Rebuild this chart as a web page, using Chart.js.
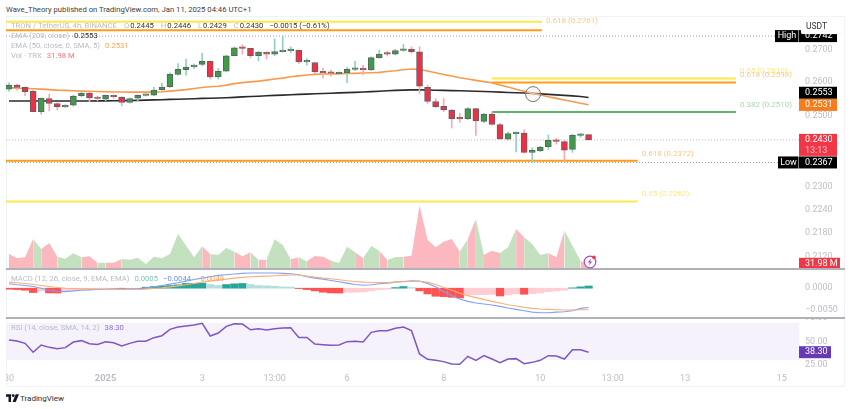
<!DOCTYPE html>
<html>
<head>
<meta charset="utf-8">
<script src="https://cdn.jsdelivr.net/npm/chart.js@4"></script>
<style>
  html, body { margin: 0; padding: 0; background: #fff; width: 850px; height: 409px; overflow: hidden; font-family: Roboto, sans-serif; }
  canvas { position: absolute; left: 6px; }
  .frame { position: absolute; left: 6px; top: 16px; width: 839px; height: 371px; border: 1px solid #f0f3fa; box-sizing: border-box; }
  .sep { position: absolute; left: 6px; width: 839px; height: 2px; background: #b0b2b8; z-index: 3; }
  .row { position: absolute; left: 11px; font-size: 7.7px; line-height: 12px; color: #b8bbc4; white-space: nowrap; z-index: 4; }
  .row b { font-weight: 400; margin-left: 5px; }
  .row i { font-style: normal; margin-left: 7px; }
  .row u { text-decoration: none; color: #333; margin-left: 1px; }
  .title { position: absolute; left: 6px; top: 3px; font-size: 7.7px; line-height: 14px; color: #3a3d45; white-space: nowrap; }
  .usdt { position: absolute; left: 801px; top: 19px; width: 40px; height: 15px; line-height: 15px; background: #fff; border-radius: 2px; box-shadow: 0 0 1px #d8dae0; font-size: 8.5px; color: #333; text-indent: 5px; z-index: 5; }
  .brand { position: absolute; left: 20px; top: 392px; font-size: 8px; line-height: 14px; color: #2a2e39; }
</style>
</head>
<body>
<div class="title">Wave_Theory published on TradingView.com, Jan 11, 2025 04:46 UTC+1</div>
<div class="frame"></div>
<canvas id="priceChart" width="839" height="252" style="top:17px"></canvas>
<canvas id="macdChart" width="839" height="48" style="top:269px"></canvas>
<canvas id="rsiChart" width="839" height="69" style="top:318px"></canvas>
<div class="sep" style="top:268px"></div>
<div class="sep" style="top:317px"></div>
<div class="usdt">USDT</div>

<div class="row" style="top:20px">TRON / TetherUS, 4h, BINANCE<i>O</i><u>0.2445</u><i>H</i><u>0.2446</u><i>L</i><u>0.2429</u><i>C</i><u>0.2430</u><u style="margin-left:6px">−0.0015 (−0.61%)</u></div>
<div class="row" style="top:29.5px">EMA (200, close)<b style="color:#333">0.2553</b></div>
<div class="row" style="top:40px">EMA (50, close, 0, SMA, 5)<b style="color:#f7a35c">0.2531</b></div>
<div class="row" style="top:50px">Vol · TRX<b style="color:#f7707d">31.98 M</b></div>
<div class="row" style="top:273px">MACD (12, 26, close, 9, EMA, EMA)<b style="color:#7cc7bd">0.0005</b><b style="color:#6f8ff0">−0.0044</b><b style="color:#f7a35c">−0.0049</b></div>
<div class="row" style="top:322px">RSI (14, close, SMA, 14, 2)<b style="color:#8e6bc9">38.30</b></div>

<svg style="position:absolute;left:582px;top:254px;z-index:4" width="16" height="16" viewBox="0 0 16 16">
  <circle cx="8" cy="8" r="5.8" fill="#fff" stroke="#ab47bc" stroke-width="1.2"/>
  <path d="M8.8 4.6 L5.9 8.6 H7.8 L7.2 11.4 L10.1 7.4 H8.2 Z" fill="#ab47bc"/>
  <circle cx="12" cy="3.4" r="1.8" fill="#f23645"/>
</svg>
<svg style="position:absolute;left:6px;top:394px" width="13" height="9" viewBox="0 0 36 24">
  <path d="M0 0 H14 V22 H7 V7 H0 Z" fill="#131722"/>
  <circle cx="20" cy="4" r="4" fill="#131722"/>
  <path d="M27 0 H36 L27 22 H18 Z" fill="#131722"/>
</svg>
<div class="brand">TradingView</div>

<script>
// candles
const opens = [
  .2578,.2590,.2583,.2571,.2511,.2550,.2535,.2525,.2530,.2558,
  .2566,.2552,.2548,.2559,.2554,.2538,.2551,.2559,.2560,.2576,
  .2585,.2622,.2637,.2646,.2653,.2663,.2615,.2632,.2680,.2705,
  .2703,.2680,.2691,.2685,.2693,.2696,.2697,.2661,.2659,.2630,
  .2629,.2624,.2627,.2638,.2639,.2637,.2674,.2689,.2685,.2697,
  .2701,.2692,.2583,.2541,.2527,.2516,.2492,.2491,.2520,.2483,
  .2504,.2474,.2432,.2448,.2449,.2395,.2400,.2411,.2429,.2425,
  .2403,.2443,.2445];
const closes = [
  .2590,.2583,.2570,.2511,.2551,.2535,.2525,.2529,.2557,.2566,
  .2552,.2550,.2559,.2555,.2538,.2550,.2559,.2561,.2575,.2584,
  .2623,.2638,.2645,.2651,.2663,.2615,.2632,.2680,.2705,.2703,
  .2680,.2691,.2685,.2693,.2696,.2697,.2661,.2663,.2630,.2627,
  .2626,.2629,.2639,.2641,.2637,.2674,.2685,.2685,.2696,.2701,
  .2693,.2587,.2541,.2525,.2516,.2491,.2490,.2520,.2484,.2504,
  .2474,.2433,.2448,.2450,.2395,.2401,.2410,.2429,.2426,.2401,
  .2443,.2445,.2430];
const highs = [
  .2597,.2593,.2585,.2575,.2551,.2563,.2537,.2532,.2560,.2572,
  .2570,.2557,.2560,.2561,.2555,.2552,.2561,.2564,.2583,.2595,
  .2627,.2656,.2670,.2654,.2688,.2664,.2641,.2682,.2708,.2714,
  .2703,.2694,.2693,.2733,.2742,.2708,.2698,.2671,.2659,.2641,
  .2636,.2630,.2643,.2663,.2651,.2677,.2698,.2695,.2700,.2716,
  .2708,.2708,.2590,.2550,.2550,.2518,.2506,.2523,.2521,.2506,
  .2511,.2477,.2453,.2453,.2459,.2408,.2412,.2444,.2434,.2429,
  .2446,.2448,.2446];
const lows = [
  .2571,.2575,.2558,.2511,.2504,.2513,.2516,.2523,.2527,.2555,
  .2540,.2543,.2543,.2550,.2528,.2536,.2542,.2557,.2558,.2574,
  .2583,.2620,.2620,.2640,.2649,.2608,.2608,.2630,.2679,.2685,
  .2673,.2664,.2670,.2680,.2692,.2689,.2656,.2651,.2625,.2612,
  .2617,.2622,.2597,.2634,.2621,.2634,.2672,.2679,.2682,.2694,
  .2688,.2565,.2535,.2524,.2511,.2464,.2480,.2488,.2443,.2479,
  .2472,.2431,.2429,.2396,.2393,.2367,.2397,.2403,.2418,.2371,
  .2395,.2437,.2429];

const ema50 = [
  .25824,.25809,.25803,.25791,.25779,.25764,.25749,.25740,.25728,.25719,
  .25713,.25707,.25701,.25695,.25692,.25689,.25689,.25689,.25689,.25701,
  .25719,.25740,.25764,.25800,.25830,.25849,.25864,.25900,.25945,.25975,
  .25997,.26021,.26051,.26082,.26112,.26152,.26179,.26204,.26225,.26235,
  .26241,.26244,.26250,.26256,.26265,.26274,.26287,.26311,.26335,.26366,
  .26388,.26378,.26326,.26274,.26222,.26173,.26121,.26082,.26042,.26006,
  .25969,.25903,.25840,.25773,.25713,.25651,.25603,.25552,.25503,.25457,
  .25410,.25360,.25312];
const ema200 = [
  .25424,.25424,.25424,.25424,.25424,.25424,.25424,.25424,.25427,.25427,
  .25427,.25430,.25430,.25433,.25436,.25439,.25445,.25451,.25457,.25463,
  .25472,.25478,.25484,.25493,.25502,.25508,.25514,.25523,.25534,.25546,
  .25558,.25567,.25579,.25591,.25600,.25609,.25621,.25630,.25639,.25648,
  .25657,.25666,.25675,.25683,.25692,.25704,.25716,.25728,.25740,.25749,
  .25755,.25758,.25752,.25746,.25740,.25734,.25728,.25722,.25716,.25707,
  .25698,.25689,.25680,.25672,.25663,.25651,.25636,.25621,.25606,.25591,
  .25576,.25558,.25530];
// volume in millions
const volumes = [
  150,110,117,300,200,260,123,103,157,117,
  127,63,63,63,100,93,113,50,123,107,
  150,353,233,117,227,150,140,210,173,127,
  167,93,93,297,240,97,117,77,130,123,
  83,60,223,167,107,230,183,90,120,123,
  133,633,293,217,273,300,173,300,500,143,
  183,160,217,400,317,250,140,160,117,387,
  233,83,31.98];

const macdHist = [
  -.00023,-.00031,-.00046,-.00100,-.00061,-.00108,-.00111,-.00061,-.00046,-.00031,
  -.00023,-.00015,-.00015,-.00008,-.00015,-.00008,-.00004,.00023,.00038,.00046,
  .00061,.00077,.00108,.00111,.00115,.00084,.00061,.00084,.00100,.00108,
  .00084,.00061,.00054,.00046,.00031,.00027,-.00008,-.00031,-.00061,-.00092,
  -.00108,-.00111,-.00092,-.00092,-.00084,-.00061,-.00031,-.00023,.00015,.00038,
  .00015,-.00061,-.00131,-.00184,-.00192,-.00207,-.00223,-.00154,-.00150,-.00146,
  -.00142,-.00177,-.00154,-.00131,-.00138,-.00123,-.00108,-.00077,-.00061,-.00046,
  .00008,.00031,.0005];
const macdLine = [
  .00100,.00077,.00061,.00038,0,-.00046,-.00069,-.00077,-.00061,-.00046,
  -.00038,-.00031,-.00023,-.00015,-.00015,-.00015,-.00015,.00008,.00031,.00061,
  .00092,.00123,.00161,.00200,.00230,.00261,.00292,.00307,.00323,.00338,
  .00346,.00346,.00346,.00346,.00338,.00330,.00307,.00261,.00230,.00207,
  .00177,.00146,.00115,.00084,.00069,.00077,.00100,.00115,.00138,.00154,
  .00169,.00161,.00108,.00031,-.00077,-.00169,-.00246,-.00300,-.00338,-.00361,
  -.00384,-.00415,-.00453,-.00484,-.00515,-.00545,-.00561,-.00561,-.00545,-.00538,
  -.00515,-.00461,-.0044];
const macdSignal = [
  .00138,.00123,.00108,.00084,.00061,.00038,.00015,0,-.00008,-.00015,
  -.00015,-.00019,-.00023,-.00023,-.00027,-.00031,-.00031,-.00023,-.00008,.00008,
  .00031,.00054,.00077,.00108,.00138,.00161,.00184,.00207,.00230,.00246,
  .00261,.00269,.00276,.00284,.00292,.00300,.00300,.00276,.00253,.00230,
  .00215,.00192,.00169,.00154,.00138,.00131,.00131,.00131,.00138,.00146,
  .00154,.00154,.00138,.00084,.00015,-.00046,-.00115,-.00169,-.00215,-.00261,
  -.00300,-.00338,-.00376,-.00407,-.00438,-.00461,-.00476,-.00484,-.00492,-.00499,
  -.00499,-.00492,-.0049];

const rsi = [
  51.4,50.3,47.8,38.2,46.0,43.5,42.1,43.2,49.2,50.7,
  47.4,46.7,49.6,48.5,45.0,47.8,50.0,50.0,53.9,56.0,
  62.8,65.3,66.4,67.5,69.3,55.7,58.9,66.0,68.9,68.5,
  62.4,63.5,62.1,63.5,64.2,64.6,54.2,54.2,47.1,46.4,
  45.7,46.0,49.6,50.0,49.2,59.6,61.4,61.4,63.9,65.3,
  61.4,36.4,30.7,29.6,28.2,25.7,25.3,33.9,29.6,34.6,
  31.0,27.1,31.0,31.4,26.0,27.4,29.6,34.6,34.2,31.0,
  41.0,41.0,38.3];

// fib levels drawn on the chart
const fibPrices = [.2788, .2761, .2610, .2598, .2510, .2372, .2262];
const fibFrom = [-0.37, -0.37, 60, 60, 60, -0.37, -0.37];
const fibTo = [66.2, 66.2, 90.3, 90.3, 90.3, 78.1, 78.1];
const fibLabels = ["", "0.618 (0.2761)", "0.65 (0.2610)", "0.618 (0.2598)", "0.382 (0.2510)", "0.618 (0.2372)", "0.65 (0.2262)"];
const fibColors = ["#fde84b", "#ff9d14", "#fde84b", "#ff9d14", "#62b566", "#ff9d14", "#fde84b"];
const fibTextColors = ["#fff", "#fbc78a", "#ffe77f", "#fbc78a", "#a8d8aa", "#fbc78a", "#ffe77f"];

const priceTicks = [.27, .26, .25, .24, .23, .224, .218, .212];
const macdTicks = [0, -.005];
const rsiTicks = [75, 50, 25];
const timeTickIndex = [0, 12, 24, 33, 42, 54, 66, 75, 84, 96];
const timeTickLabels = ["30", "2025", "3", "13:00", "6", "8", "10", "13:00", "13", "15"];

const highPrice = .2742, lowPrice = .2367, lastPrice = .2430;
const crossIndex = 65.1, crossPrice = .2563;

const xMin = -0.37, xMax = 98.14;
const candleIndex = opens.map((_, i) => i);
const GREEN = "#3d9c46", RED = "#ee2f45";
const isUp = i => closes[i] >= opens[i];

Chart.defaults.font.family = "Roboto, sans-serif";
Chart.defaults.font.size = 9;
Chart.defaults.animation = false;
Chart.defaults.responsive = false;
Chart.defaults.plugins.legend.display = false;
Chart.defaults.plugins.tooltip.enabled = false;
Chart.defaults.devicePixelRatio = 1;

const series = arr => arr.map((v, i) => ({ x: i, y: v }));
const flat = (v, a, b) => [{ x: a, y: v }, { x: b, y: v }];
const lineSet = (data, color, width, order, extra) => Object.assign({
  type: "line", data, borderColor: color, borderWidth: width, pointRadius: 0, order, yAxisID: "y"
}, extra || {});

// tick labels must not push the plot area inwards
function noLabelPadding(s) {
  s.paddingLeft = s.paddingRight = s.paddingTop = s.paddingBottom = 0;
}

function xAxis(show) {
  return {
    type: "linear", min: xMin, max: xMax, offset: false, display: show,
    grid: { display: false, drawTicks: false }, border: { display: false },
    afterBuildTicks: s => { s.ticks = timeTickIndex.map(value => ({ value })); },
    afterFit: s => { noLabelPadding(s); s.height = show ? 17 : 0; },
    ticks: {
      autoSkip: false, maxRotation: 0, padding: 3, color: "#bcbec6",
      callback: v => timeTickLabels[timeTickIndex.indexOf(v)],
      font: ctx => ctx.tick && ctx.tick.value === 12 ? { size: 9.5, weight: "bold" } : { size: 9 }
    }
  };
}
function yAxis(tickValues, fmt, extra) {
  return Object.assign({
    position: "right", bounds: "data",
    grid: { display: false, drawTicks: false }, border: { display: false },
    afterBuildTicks: s => { s.ticks = tickValues.map(value => ({ value })); },
    afterFit: s => { noLabelPadding(s); s.width = 46; },
    ticks: { autoSkip: false, padding: 6, color: "#bcbec6", callback: fmt }
  }, extra);
}

// value tags on the right axis and the fib captions
function tagsPlugin(tags, captions) {
  return {
    id: "tags",
    afterDraw(chart) {
      const ctx = chart.ctx, area = chart.chartArea;
      ctx.save();
      ctx.textBaseline = "middle";
      ctx.font = "8px Roboto, sans-serif";
      captions.forEach(c => {
        ctx.fillStyle = c.color;
        ctx.textAlign = "left";
        ctx.fillText(c.text, chart.scales.x.getPixelForValue(c.x) + 4, chart.scales.y.getPixelForValue(c.y) + c.dy);
      });
      ctx.font = "9px Roboto, sans-serif";
      tags.forEach(t => {
        const scale = chart.scales[t.axis || "y"];
        const y = scale.getPixelForValue(t.value) + (t.nudge || 0);
        const h = t.sub ? 22 : 12;
        ctx.fillStyle = t.bg;
        ctx.fillRect(area.right, y - 6, t.w || 38, h);
        if (t.name) {
          ctx.fillStyle = "#000";
          ctx.fillRect(area.right - t.nameW, y - 6, t.nameW - 0.5, 12);
          ctx.fillStyle = "#fff";
          ctx.textAlign = "center";
          ctx.fillText(t.name, area.right - t.nameW / 2, y);
        }
        ctx.textAlign = "left";
        ctx.fillStyle = "#fff";
        ctx.fillText(t.text, area.right + 6, y);
        if (t.sub) {
          ctx.fillStyle = "#fcc2c8";
          ctx.fillText(t.sub, area.right + 6, y + 10.5);
        }
      });
      ctx.restore();
    }
  };
}

const fibSets = fibPrices.map((p, i) => lineSet(flat(p, fibFrom[i], fibTo[i]), fibColors[i], 2, 9));
const fibCaptions = fibPrices.map((p, i) => ({ x: fibTo[i], y: p, dy: i === 1 ? -9 : -7, text: fibLabels[i], color: fibTextColors[i] }));
const priceTags = [
  { value: highPrice, text: highPrice.toFixed(4), bg: "#000", name: "High", nameW: 24 },
  { value: .2553, text: "0.2553", bg: "#000", nudge: -4.7 },
  { value: .2531, text: "0.2531", bg: "#f77c1c" },
  { value: lastPrice, text: lastPrice.toFixed(4), bg: "#f23645", sub: "13:13" },
  { value: lowPrice, text: lowPrice.toFixed(4), bg: "#000", name: "Low", nameW: 21 },
  { axis: "vol", value: volumes[72], text: "31.98 M", bg: "#f23645", w: 41, nudge: -2 }
];

new Chart(document.getElementById("priceChart"), {
  type: "bar",
  plugins: [tagsPlugin(priceTags, fibCaptions)],
  data: {
    datasets: [
      {
        type: "line", yAxisID: "vol", order: 12, pointRadius: 0, borderWidth: 0,
        data: series(volumes), fill: "origin", backgroundColor: "#c3e1bf",
        segment: { backgroundColor: c => isUp(c.p1DataIndex) ? "#c3e1bf" : "#fbb8be" }
      },
      ...fibSets,
      lineSet(flat(highPrice, xMin, 95.6), "#9a9da6", 1, 10, { borderDash: [1, 2] }),
      lineSet(flat(lowPrice, xMin, 95.6), "#9a9da6", 1, 10, { borderDash: [1, 2] }),
      lineSet(flat(lastPrice, xMin, xMax), "#e6aab0", 1, 10, { borderDash: [1, 2] }),
      lineSet(series(ema200), "#2b2b2b", 1.6, 5),
      lineSet(series(ema50), "#f79a4c", 1.6, 4),
      {
        yAxisID: "y", order: 3, grouped: false, barThickness: 1,
        data: candleIndex.map(i => ({ x: i, y: [lows[i], highs[i]] })),
        backgroundColor: candleIndex.map(i => isUp(i) ? "#93cfc4" : "#f8aab2")
      },
      {
        yAxisID: "y", order: 2, grouped: false, barThickness: 6, minBarLength: 1.5,
        data: candleIndex.map(i => ({ x: i, y: [opens[i], closes[i]] })),
        backgroundColor: candleIndex.map(i => isUp(i) ? GREEN : RED),
        borderColor: "#5f6062", borderWidth: 1, borderSkipped: false
      },
      {
        type: "scatter", yAxisID: "y", order: 1, data: [{ x: crossIndex, y: crossPrice }],
        pointRadius: 7.5, pointBackgroundColor: "rgba(235,230,232,0.35)",
        pointBorderColor: "#77787c", pointBorderWidth: 1
      }
    ]
  },
  options: {
    layout: { autoPadding: false, padding: 0 },
    scales: {
      x: xAxis(false),
      y: yAxis(priceTicks, v => Number(v).toFixed(4), { type: "logarithmic", min: .2091, max: .28036 }),
      vol: { type: "linear", min: 0, max: 2515, display: false }
    }
  }
});

new Chart(document.getElementById("macdChart"), {
  type: "bar",
  data: {
    datasets: [
      lineSet(series(macdSignal), "#f9b07a", 1.1, 1),
      lineSet(series(macdLine), "#82a0f6", 1.1, 2),
      {
        yAxisID: "y", order: 3, barThickness: 7.5,
        data: series(macdHist),
        backgroundColor: macdHist.map((v, i) => {
          const prev = i ? macdHist[i - 1] : 0;
          if (v >= 0) return v > prev ? "#26a69a" : "#b2dfdb";
          return v < prev ? "#ff5252" : "#ffcdd2";
        })
      }
    ]
  },
  options: {
    layout: { autoPadding: false, padding: 0 },
    scales: {
      x: xAxis(false),
      y: yAxis(macdTicks, v => (v < 0 ? "−" : "") + Math.abs(v).toFixed(4), { min: -.00657, max: .00438 })
    }
  }
});

new Chart(document.getElementById("rsiChart"), {
  type: "line",
  plugins: [tagsPlugin([{ value: 38.3, text: "38.30", bg: "#673ab7", w: 32 }], [])],
  data: {
    datasets: [
      lineSet(flat(70, xMin, xMax), "transparent", 0, 5, { fill: { value: 30 }, backgroundColor: "#f6f2fc" }),
      lineSet(series(rsi), "#7e57c2", 1.5, 1)
    ]
  },
  options: {
    layout: { autoPadding: false, padding: 0 },
    scales: {
      x: xAxis(true),
      y: yAxis(rsiTicks, v => Number(v).toFixed(2), { min: 19.2, max: 75 })
    }
  }
});
</script>
</body>
</html>
